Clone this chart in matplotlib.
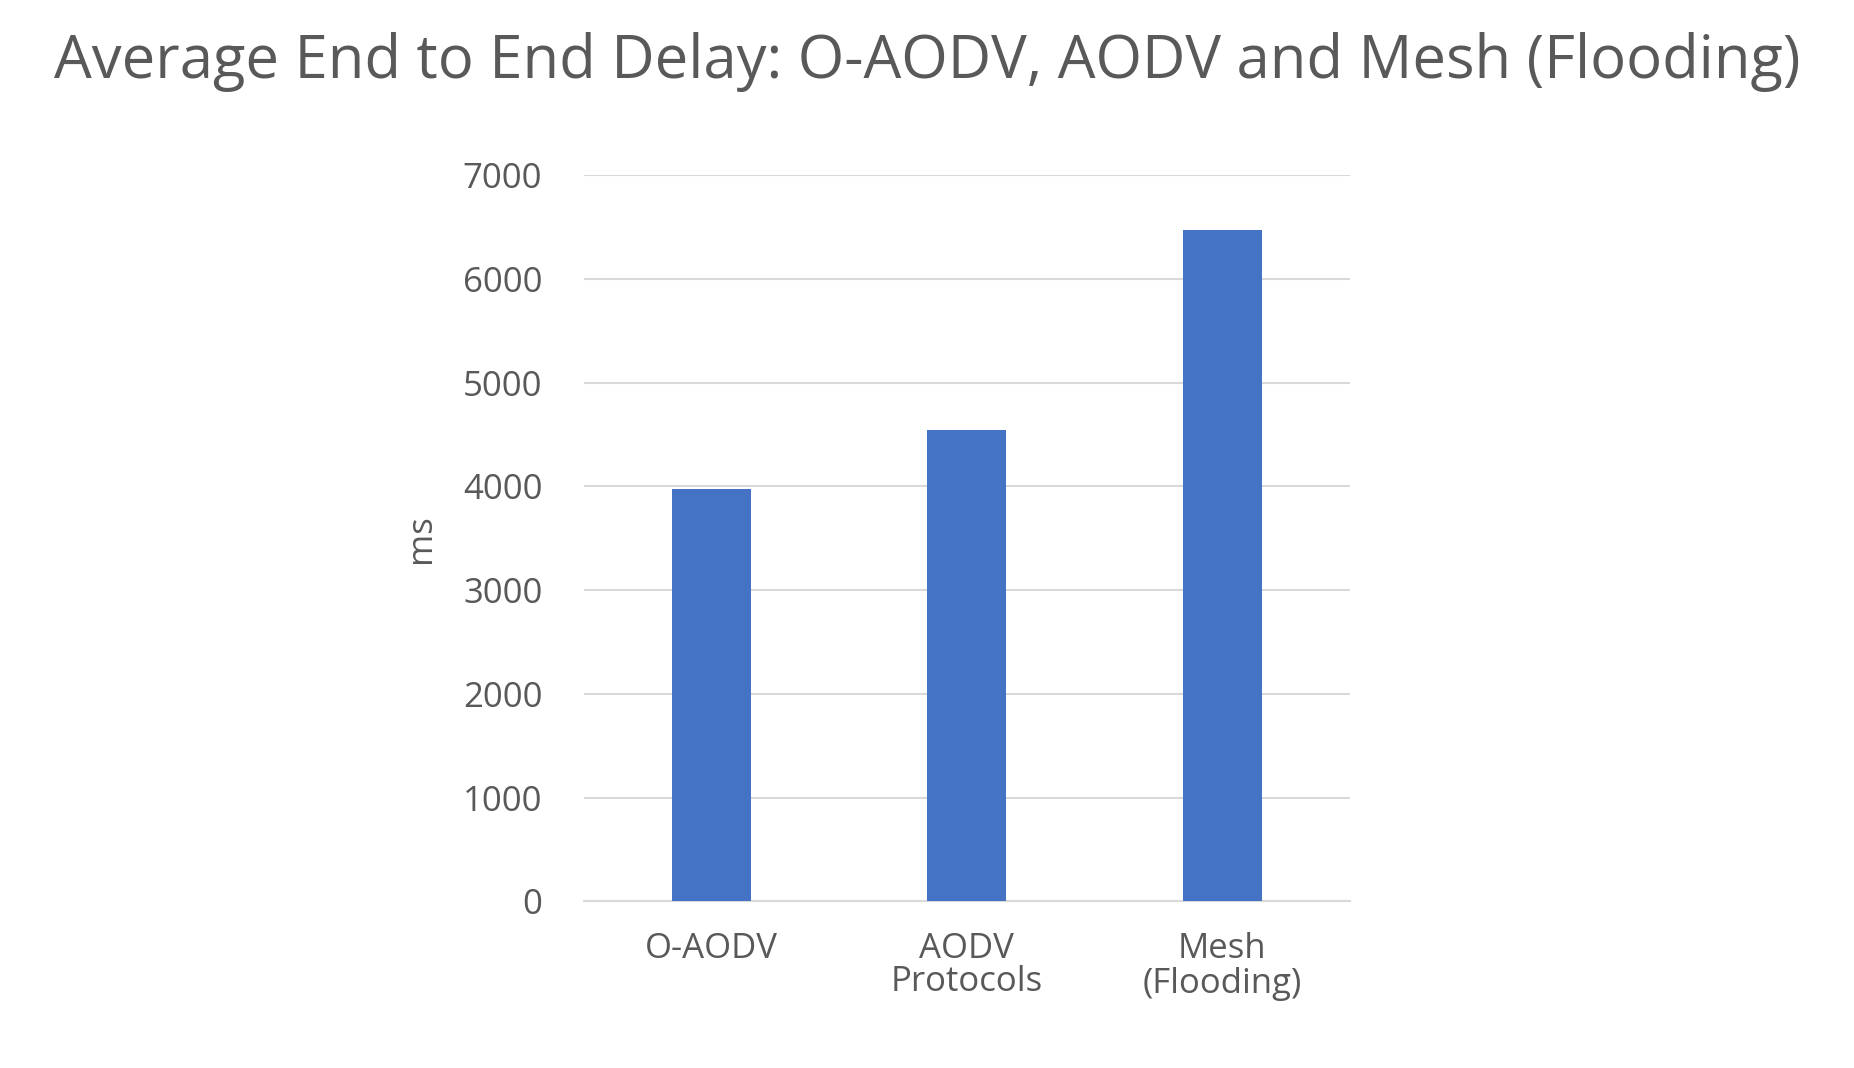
import matplotlib
matplotlib.use("Agg")
import matplotlib.pyplot as plt

categories = ["O-AODV", "AODV", "Mesh\n(Flooding)"]
values = [3975, 4545, 6470]
yticks = [0, 1000, 2000, 3000, 4000, 5000, 6000, 7000]

plt.rcParams['font.family'] = ['Open Sans', 'DejaVu Sans']
grey = "#595959"
fig = plt.figure(figsize=(18.54, 10.68), dpi=100)
ax = fig.add_axes([0.315, 0.156, 0.413, 0.68])
x = range(len(categories))
ax.bar(x, values, width=0.31, color="#4472C4", zorder=3)
ax.set_xlim(-0.5, 2.5)
ax.set_ylim(0, 7000)
ax.set_yticks(yticks)
ax.set_yticklabels([str(t) for t in yticks], fontsize=25, color=grey)
ax.set_xticks(list(x))
ax.set_xticklabels(categories, fontsize=25, color=grey, linespacing=1.05)
ax.grid(axis="y", color="#D9D9D9", linewidth=1.5, zorder=0)
for s in ["top", "right", "left"]:
    ax.spines[s].set_visible(False)
ax.spines["bottom"].set_color("#D9D9D9")
ax.spines["bottom"].set_linewidth(1.5)
ax.tick_params(axis="y", length=0, pad=30)
ax.tick_params(axis="x", length=0, pad=22)
ax.set_ylabel("ms", fontsize=25, color=grey, labelpad=18)
ax.set_xlabel("Protocols", fontsize=25, color=grey, labelpad=-26)
fig.text(0.5, 0.942, "Average End to End Delay: O-AODV, AODV and Mesh (Flooding)",
         ha="center", va="center", fontsize=43, color=grey)
fig.savefig("out.png", dpi=100, facecolor="white")
